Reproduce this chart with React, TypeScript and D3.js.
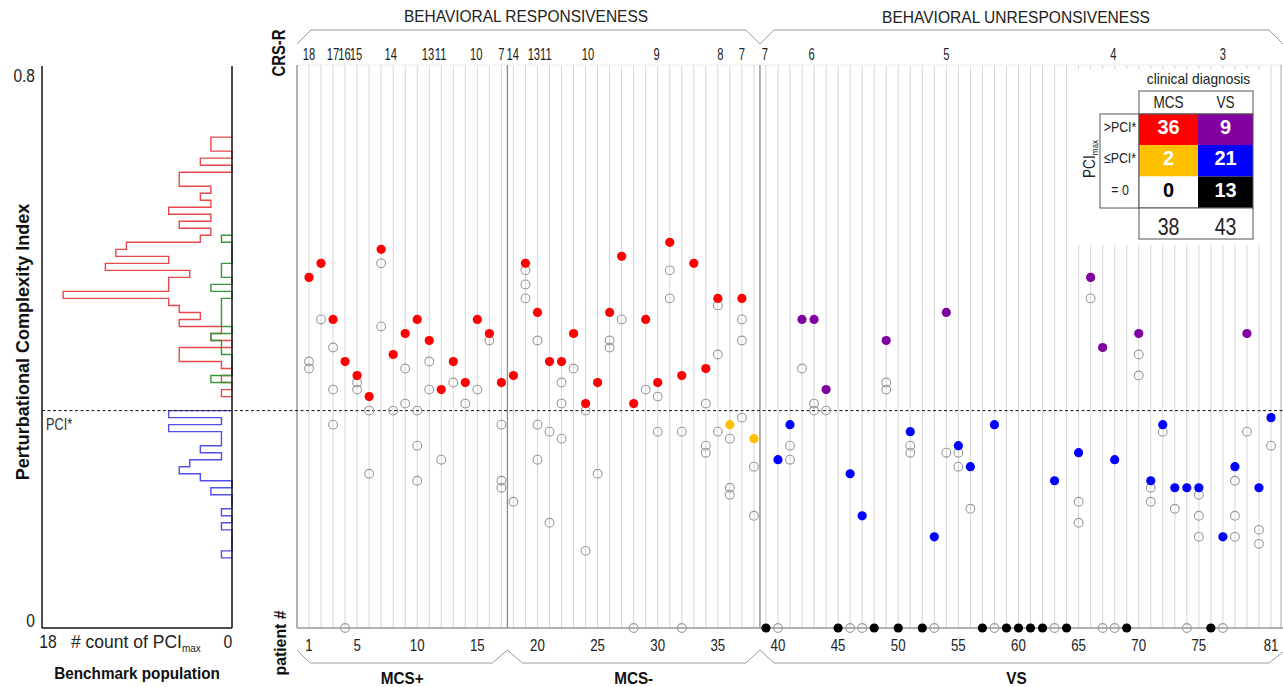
import React from 'react';
import * as d3 from 'd3';

const WIDTH = 1283;
const HEIGHT = 687;
const FONT = '"Liberation Sans", Arial, Helvetica, sans-serif';

const RED = '#ff0000';
const PURPLE = '#8000a0';
const YELLOW = '#ffc000';
const BLUE = '#0000ff';
const BLACK = '#000000';

// PCI* threshold
const pciStar = 0.31;

// patients 1..38 are MCS (MCS+ up to 17), 39..81 are VS
const groupNames = ['MCS+', 'MCS-', 'VS'];
const groupLast = [17, 38, 81];

// maximum PCI of each patient (patient 1..81)
const pciMax = [
  0.50, 0.52, 0.44, 0.38, 0.36, 0.33, 0.54, 0.39, 0.42, 0.44,
  0.41, 0.34, 0.38, 0.35, 0.44, 0.42, 0.35, 0.36, 0.52, 0.45,
  0.38, 0.38, 0.42, 0.32, 0.35, 0.45, 0.53, 0.32, 0.44, 0.35,
  0.55, 0.36, 0.52, 0.37, 0.47, 0.29, 0.47, 0.27, 0, 0.24,
  0.29, 0.44, 0.44, 0.34, 0, 0.22, 0.16, 0, 0.41, 0,
  0.28, 0, 0.13, 0.45, 0.26, 0.23, 0, 0.29, 0, 0,
  0, 0, 0.21, 0, 0.25, 0.50, 0.40, 0.24, 0, 0.42,
  0.21, 0.29, 0.20, 0.20, 0.20, 0, 0.13, 0.23, 0.42, 0.20,
  0.30,
];

// the other PCI measurements of each patient (open circles)
const pciOther = [
  [0.38, 0.37], [0.44], [0.40, 0.34, 0.29], [0], [0.35, 0.34],
  [0.31, 0.22], [0.52, 0.43], [0.31], [0.37, 0.32], [0.31, 0.26, 0.21],
  [0.38, 0.34], [0.24], [0.35], [0.32], [0.34],
  [0.41], [0.29, 0.21, 0.20], [0.18], [0.51, 0.49, 0.47], [0.41, 0.29, 0.24],
  [0.28, 0.15], [0.35, 0.32, 0.27], [0.37], [0.31, 0.11], [0.22],
  [0.41, 0.40], [0.44], [0], [0.34], [0.33, 0.28],
  [0.51, 0.47], [0.28, 0], [], [0.32, 0.26, 0.25], [0.46, 0.39, 0.28],
  [0.27, 0.20, 0.19], [0.44, 0.41, 0.30], [0.23, 0.16], [], [0],
  [0.26, 0.24], [0.37], [0.32, 0.31], [0.31], [],
  [0], [0], [], [0.35, 0.34], [],
  [0.26, 0.25], [], [0], [0.25], [0.25, 0.23],
  [0.17], [], [0], [], [],
  [], [], [0], [], [0.18, 0.15],
  [0.47], [0], [0], [], [0.39, 0.36],
  [0.20, 0.18], [0.28], [0.17], [0], [0.19, 0.16, 0.13],
  [], [0], [0.21, 0.16, 0.13], [0.28], [0.14, 0.12],
  [0.26],
];

// CRS-R total scores written above the patients
const crsScores = ['18', '17', '16', '15', '14', '13', '11', '10', '7', '14', '13', '11', '10', '9', '8', '7', '7', '6', '5', '4', '3'];
const crsAt = [1.0, 3.0, 3.95, 4.9, 7.8, 10.9, 11.95, 14.9, 17.0, 17.95, 19.7, 20.7, 24.2, 29.9, 35.2, 37.0, 38.9, 42.8, 54.0, 67.9, 77.0];

const patientTicks = [1, 5, 10, 15, 20, 25, 30, 35, 40, 45, 50, 55, 60, 65, 70, 75, 81];

// benchmark population histogram, 0.01 wide bins, counts listed from the top bin down
const binWidth = 0.01;
const consciousTop = 0.70;
const consciousCounts = [2, 2, 0, 3, 0, 5, 5, 2, 3, 2, 6, 2, 5, 2, 3, 10, 11, 6, 12, 4, 6, 6, 16, 6, 5, 3, 5, 1, 2, 0, 5, 5, 1, 0, 1, 0, 1];
const brainInjuredTop = 0.56;
const brainInjuredCounts = [1, 0, 0, 0, 1, 1, 0, 2, 0, 1, 1, 1, 1, 0, 2, 1, 1, 0, 0, 0, 2];
const unconsciousTop = 0.31;
const unconsciousCounts = [6, 1, 6, 1, 1, 3, 1, 4, 5, 3, 0, 2, 0, 0, 1, 0, 1, 0, 0, 0, 1];

const tableCols = ['MCS', 'VS'];
const tableRows = ['>PCI*', '\u2264PCI*', '= 0'];

const x = d3.scaleLinear().domain([1, 81]).range([309, 1271]);
const y = d3.scaleLinear().domain([0, 0.8]).range([628, 67]);
const hx = d3.scaleLinear().domain([0, 18]).range([232, 42]);

const isMcs = (p: number) => p <= groupLast[1];
const category = (v: number) => (v > pciStar ? 0 : v > 0 ? 1 : 2);
const dotColor = (p: number, v: number) => {
  const c = category(v);
  if (c === 0) return isMcs(p) ? RED : PURPLE;
  if (c === 1) return isMcs(p) ? YELLOW : BLUE;
  return BLACK;
};

function stairs(top: number, counts: number[]) {
  const pts: [number, number][] = [[0, top]];
  counts.forEach((c, i) => {
    pts.push([c, top - i * binWidth]);
    pts.push([c, top - (i + 1) * binWidth]);
  });
  pts.push([0, top - counts.length * binWidth]);
  return d3.line<[number, number]>().x(d => hx(d[0])).y(d => y(d[1]))(pts) || '';
}

function Label({ x, y, size, sx = 1, anchor = 'middle', weight = 400, fill = '#222', rotate = 0, children }: any) {
  return (
    <text
      transform={`translate(${x},${y}) rotate(${rotate}) scale(${sx},1)`}
      fontSize={size}
      fontWeight={weight}
      textAnchor={anchor}
      fill={fill}
      fontFamily={FONT}
    >
      {children}
    </text>
  );
}

export default function App() {
  const patients = d3.range(1, pciMax.length + 1);
  const plotTop = 65;
  const plotBottom = y(0);
  const xl = x(0);
  const xs1 = x(groupLast[0] + 0.5);
  const xs2 = x(groupLast[1] + 0.5);
  const xr = WIDTH;

  // contingency table from the data
  const counts = [[0, 0], [0, 0], [0, 0]];
  pciMax.forEach((v, i) => {
    counts[category(v)][isMcs(i + 1) ? 0 : 1] += 1;
  });
  const totals = [0, 1].map(c => counts[0][c] + counts[1][c] + counts[2][c]);
  const cellFill = [[RED, PURPLE], [YELLOW, BLUE], ['#ffffff', BLACK]];
  const cellText = [['#fff', '#fff'], ['#fff', '#fff'], ['#000', '#fff']];
  const colX = [1139, 1198, 1253];
  const rowY = [114, 145, 176.5, 208, 239];

  const groupCenters = [
    (x(1) + x(groupLast[0])) / 2 - 3,
    (x(groupLast[0] + 1) + x(groupLast[1])) / 2,
    (x(groupLast[1] + 1) + x(groupLast[2])) / 2 - 2,
  ];

  const topBracket = `M${xl},44 L${xl + 14},30 L${xs2 - 14},30 L${xs2},44 L${xs2 + 14},30 L${xr - 14},30 L${xr},44`;
  const bottomBracket = `M${xl},650 L${xl + 13},663 L${xs1 - 15},663 L${xs1},650 L${xs1 + 15},663 L${xs2 - 14},663 L${xs2},650 L${xs2 + 14},663 L${xr - 14},663 L${xr},652`;

  return (
    <svg
      width={WIDTH}
      height={HEIGHT}
      style={{ position: 'absolute', left: 0, top: 0, background: '#fff' }}
      fontFamily={FONT}
    >
      <rect x={0} y={0} width={WIDTH} height={HEIGHT} fill="#fff" />

      {/* ---- benchmark histogram ---- */}
      <path d={stairs(consciousTop, consciousCounts)} fill="none" stroke="#e8484c" strokeWidth={1.4} />
      <path d={stairs(brainInjuredTop, brainInjuredCounts)} fill="none" stroke="#3b963b" strokeWidth={1.4} />
      <path d={stairs(unconsciousTop, unconsciousCounts)} fill="none" stroke="#5050e8" strokeWidth={1.4} />
      <line x1={hx(18)} x2={hx(18)} y1={y(0.8) - 1} y2={y(0)} stroke="#111" strokeWidth={1.5} />
      <line x1={hx(0)} x2={hx(0)} y1={y(0.8) - 1} y2={y(0)} stroke="#111" strokeWidth={1.5} />
      <line x1={hx(18)} x2={hx(0)} y1={y(0)} y2={y(0)} stroke="#111" strokeWidth={1.5} />

      <Label x={35} y={81.5} size={18.5} sx={0.84} anchor="end">0.8</Label>
      <Label x={35} y={627} size={18.5} sx={0.84} anchor="end">0</Label>
      <Label x={48} y={648} size={17.5} sx={0.9}>18</Label>
      <Label x={228} y={648} size={17.5} sx={0.9}>0</Label>
      <text x={71} y={648} fontSize={17.5} fill="#222" fontFamily={FONT}>
        # count of PCI<tspan fontSize={10} dy={4}>max</tspan>
      </text>
      <Label x={137} y={679} size={17} sx={0.9} weight={700} fill="#111">Benchmark population</Label>
      <Label x={46} y={430} size={16} sx={0.8} anchor="start" fill="#333">PCI*</Label>
      <Label x={29} y={342} size={19} sx={0.95} weight={700} rotate={-90} fill="#111">Perturbational Complexity Index</Label>

      {/* ---- patient plot frame ---- */}
      <line x1={xl} x2={xr} y1={plotTop} y2={plotTop} stroke="#ececec" strokeWidth={1} />
      {patients.map(p => (
        <line key={`g${p}`} x1={x(p)} x2={x(p)} y1={plotTop} y2={plotBottom} stroke="#d6d6d6" strokeWidth={1} />
      ))}
      <line x1={xs1} x2={xs1} y1={plotTop} y2={plotBottom} stroke="#8a8a8a" strokeWidth={1.3} />
      <line x1={xs2} x2={xs2} y1={plotTop} y2={plotBottom} stroke="#8a8a8a" strokeWidth={1.3} />
      <line x1={xl} x2={xl} y1={plotTop} y2={plotBottom} stroke="#999" strokeWidth={1.5} />
      <line x1={x(81) + 10} x2={x(81) + 10} y1={plotTop} y2={plotBottom} stroke="#aaa" strokeWidth={1} />
      <line x1={xl} x2={xr} y1={plotBottom} y2={plotBottom} stroke="#999" strokeWidth={1.3} />

      {/* white area behind the table */}
      <rect x={1070} y={69} width={198} height={176} fill="#fff" />

      {/* PCI* line across both panels */}
      <line x1={hx(18)} x2={xr} y1={y(pciStar)} y2={y(pciStar)} stroke="#111" strokeWidth={1} strokeDasharray="3,2.5" />

      {/* other measurements */}
      {patients.map(p =>
        pciOther[p - 1].map((v, j) => (
          <circle key={`o${p}-${j}`} cx={x(p)} cy={y(v)} r={4.4} fill="none" stroke="#9a9a9a" strokeWidth={1.1} />
        ))
      )}
      {/* maximum PCI */}
      {patients.map(p => (
        <circle key={`m${p}`} cx={x(p)} cy={y(pciMax[p - 1])} r={4.6} fill={dotColor(p, pciMax[p - 1])} />
      ))}

      {/* ---- brackets and labels ---- */}
      <path d={topBracket} fill="none" stroke="#999" strokeWidth={1} />
      <path d={bottomBracket} fill="none" stroke="#999" strokeWidth={1} />
      <Label x={526} y={22} size={16.3} sx={0.95}>BEHAVIORAL RESPONSIVENESS</Label>
      <Label x={1016} y={22.5} size={16.3} sx={0.955}>BEHAVIORAL UNRESPONSIVENESS</Label>
      {crsScores.map((s, i) => (
        <Label key={`c${i}`} x={x(crsAt[i])} y={59.5} size={16.5} sx={0.68}>{s}</Label>
      ))}
      {patientTicks.map(t => (
        <Label key={`t${t}`} x={x(t)} y={650.5} size={17} sx={0.78}>{t}</Label>
      ))}
      {groupNames.map((g, i) => (
        <Label key={g} x={groupCenters[i]} y={683.5} size={17} sx={0.9} weight={700} fill="#111">{g}</Label>
      ))}
      <Label x={285} y={53} size={18.5} sx={0.8} weight={700} rotate={-90} fill="#111">CRS-R</Label>
      <Label x={286} y={643} size={17} sx={0.93} weight={700} rotate={-90} fill="#111">patient #</Label>

      {/* ---- contingency table ---- */}
      <Label x={1198.5} y={84} size={15} sx={0.92}>clinical diagnosis</Label>
      <rect x={colX[0]} y={91} width={colX[2] - colX[0]} height={rowY[0] - 91} fill="#fff" stroke="#555" strokeWidth={1} />
      {tableCols.map((c, j) => (
        <Label key={c} x={(colX[j] + colX[j + 1]) / 2} y={108} size={16} sx={0.85}>{c}</Label>
      ))}
      <rect x={1100} y={rowY[0]} width={colX[0] - 1100} height={rowY[3] - rowY[0]} fill="#fff" stroke="#555" strokeWidth={1} />
      {tableRows.map((r, i) => (
        <Label key={r} x={1120} y={rowY[i] + 18} size={15.5} sx={0.8}>{r}</Label>
      ))}
      <text transform={`translate(1095,${(rowY[0] + rowY[3]) / 2 - 2}) rotate(-90) scale(0.85,1)`} textAnchor="middle" fontSize={16} fill="#222" fontFamily={FONT}>
        PCI<tspan fontSize={9.5} dy={3}>max</tspan>
      </text>
      {counts.map((row, i) =>
        row.map((n, j) => (
          <g key={`cell${i}-${j}`}>
            <rect x={colX[j]} y={rowY[i]} width={colX[j + 1] - colX[j]} height={rowY[i + 1] - rowY[i]} fill={cellFill[i][j]} />
            <Label x={(colX[j] + colX[j + 1]) / 2} y={rowY[i] + 20} size={21} sx={0.95} weight={700} fill={cellText[i][j]}>{n}</Label>
          </g>
        ))
      )}
      <rect x={colX[0]} y={rowY[0]} width={colX[2] - colX[0]} height={rowY[3] - rowY[0]} fill="none" stroke="#555" strokeWidth={1} />
      <rect x={colX[0]} y={rowY[3]} width={colX[2] - colX[0]} height={rowY[4] - rowY[3]} fill="#fff" stroke="#555" strokeWidth={1} />
      {totals.map((t, j) => (
        <Label key={`tot${j}`} x={(colX[j] + colX[j + 1]) / 2} y={rowY[3] + 27} size={23} sx={0.85}>{t}</Label>
      ))}
    </svg>
  );
}
